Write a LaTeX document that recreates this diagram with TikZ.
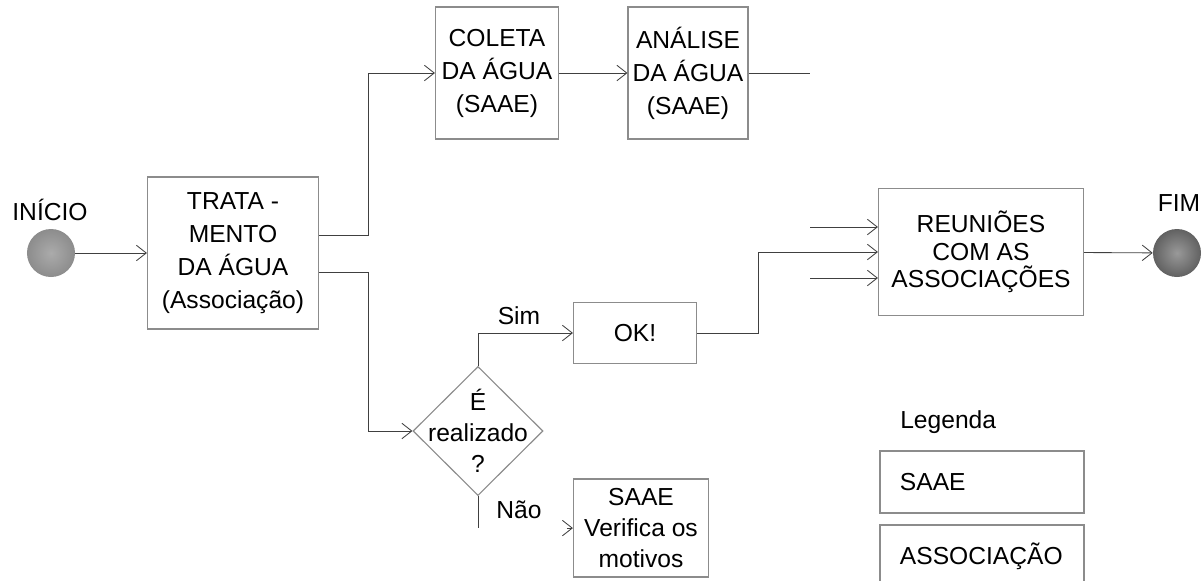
\documentclass[tikz,border=0pt]{standalone}
\usepackage{fontspec}
\setmainfont{Liberation Sans}
\usetikzlibrary{shapes.geometric}
\usetikzlibrary{arrows.meta}

\begin{document}
\begin{tikzpicture}[
			x=0.025cm, y=-0.025cm,
			font=\fontsize{17.5}{23.5}\selectfont,
			every node/.style={
					align=center,
					text=black
				},
			caixa/.style={draw=black!45, line width=0.8pt, fill=white, inner sep=2pt},
			bola/.style={circle, minimum size=1.2cm, inner sep=0pt, shading=radial},
			liga/.style={draw=black!75, line width=0.6pt},
			>={Straight Barb[length=7pt, width=11pt]}
		]
		\useasboundingbox (0,0) rectangle (1202,580);

		% inicio e fim
		\node[bola, inner color=black!33, outer color=black!45] (ninicio) at (51,253) {};
		\node (tinicio) at (50,210) {INÍCIO};
		\node[bola, inner color=black!40, outer color=black!62] (nfim) at (1177,253) {};
		\node (tfim) at (1179,203) {FIM};

		% caixas do fluxo
		\node[caixa, minimum width=4.275cm, minimum height=3.8cm] (ntrat) at (233,253) {TRATA -\\MENTO\\DA ÁGUA\\(Associação)};
		\node[caixa, minimum width=3.075cm, minimum height=3.3cm] (ncol) at (497,73) {COLETA\\DA ÁGUA\\(SAAE)};
		\node[caixa, minimum width=3.0cm, minimum height=3.3cm] (nana) at (688,73) {ANÁLISE\\DA ÁGUA\\(SAAE)};
		\node[
			diamond,
			draw=black!45,
			line width=0.8pt,
			fill=white,
			minimum width=3.25cm,
			minimum height=3.225cm,
			inner sep=0pt,
			label={[align=center, font=\fontsize{17.5}{22}\selectfont]center:É\\realizado\\?}
		] (ndec) at (478,431) {};
		\node[caixa, minimum width=3.075cm, minimum height=1.525cm] (nok) at (635,333) {OK!};
		\node[caixa, minimum width=3.375cm, minimum height=2.45cm, font=\fontsize{17.5}{22}\selectfont] (nver) at (641,528) {SAAE\\Verifica os\\motivos};
		\node[caixa, minimum width=5.125cm, minimum height=3.175cm, font=\fontsize{17.5}{19.6}\selectfont] (nreu) at (981,252) {REUNIÕES\\COM AS\\ASSOCIAÇÕES};

		\node (tsim) at (519,316) {Sim};
		\node (tnao) at (519,510) {Não};

		% legenda
		\node[anchor=west, inner sep=0pt] (tleg) at (900,422) {Legenda};
		\node[caixa, minimum width=5.1cm, minimum height=1.55cm, text width=4.1cm, align=left, inner xsep=0.5cm] (nsaae) at (982,482) {SAAE};
		\node[caixa, minimum width=5.1cm, minimum height=1.55cm, text width=4.1cm, align=left, inner xsep=0.5cm] (nassoc) at (982,556) {ASSOCIAÇÃO};

		\coordinate (nsaida) at (810,73);
		\coordinate (nin1) at (810,227);
		\coordinate (nin2) at (810,278);

		% ligacoes
		\draw[liga, ->] (ninicio) -- (ntrat);
		\draw[liga, ->] ([yshift=0.45cm]ntrat.east) -- ++(49,0) |- (ncol);
		\draw[liga, ->] ([yshift=-0.475cm]ntrat.east) -- ++(49,0) |- (ndec);
		\draw[liga, ->] (ncol) -- (nana);
		\draw[liga] (nana) -- (nsaida);
		\draw[liga, ->] (ndec) |- (nok);
		\draw[liga, ->] (nok.east) -- ++(61,0) |- (nreu);
		\draw[liga, ->] (nin1) -- (nin1 -| nreu.west);
		\draw[liga, ->] (nin2) -- (nin2 -| nreu.west);
		\draw[liga, ->] (nreu) -- (nfim);
		\draw[liga] (ndec.south) -- ++(0,32) coordinate (nnao);
		\draw[liga, ->] ([xshift=-0.15cm]nver.west |- nnao) -- (nver.west |- nnao);

	\end{tikzpicture}
\end{document}
